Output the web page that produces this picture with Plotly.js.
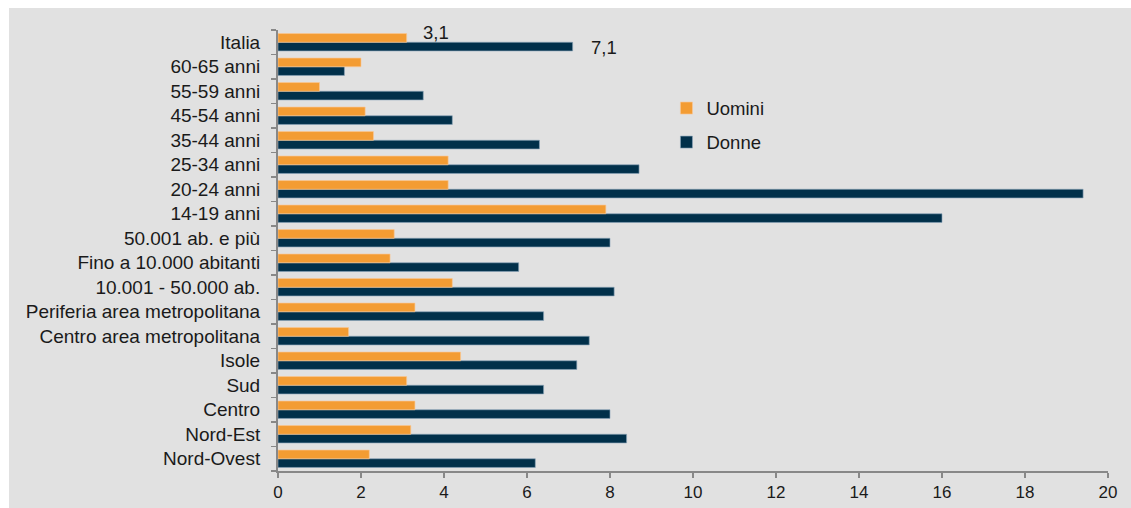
<!DOCTYPE html>
<html>
<head>
<meta charset="utf-8">
<script src="https://cdn.plot.ly/plotly-3.0.1.min.js"></script>
<style>
  html, body { margin: 0; padding: 0; background: #ffffff; }
  #chart { position: absolute; left: 9px; top: 8px; width: 1122px; height: 500px; }
</style>
</head>
<body>
<div id="chart"></div>
<script>
// Categories listed bottom to top
const categories = [
  "Nord-Ovest", "Nord-Est", "Centro", "Sud", "Isole",
  "Centro area metropolitana", "Periferia area metropolitana",
  "10.001 - 50.000 ab.", "Fino a 10.000 abitanti", "50.001 ab. e più",
  "14-19 anni", "20-24 anni", "25-34 anni", "35-44 anni",
  "45-54 anni", "55-59 anni", "60-65 anni", "Italia"
];
const uomini = [2.2, 3.2, 3.3, 3.1, 4.4, 1.7, 3.3, 4.2, 2.7, 2.8, 7.9, 4.1, 4.1, 2.3, 2.1, 1.0, 2.0, 3.1];
const donne  = [6.2, 8.4, 8.0, 6.4, 7.2, 7.5, 6.4, 8.1, 5.8, 8.0, 16.0, 19.4, 8.7, 6.3, 4.2, 3.5, 1.6, 7.1];
const labelCategory = "Italia";
const xTicks = [0, 2, 4, 6, 8, 10, 12, 14, 16, 18, 20];

const FONT = "'Liberation Sans', Arial, sans-serif";
const idx = categories.indexOf(labelCategory);

const traces = [
  {
    type: "bar", orientation: "h", name: "Donne", legendrank: 2, legendgroup: "d",
    y: categories, x: donne,
    marker: { color: "#01304a", line: { color: "rgba(140,165,185,0.8)", width: 0.8 } },
    hoverinfo: "x+y"
  },
  {
    type: "bar", orientation: "h", name: "Uomini", legendrank: 1, legendgroup: "u",
    y: categories, x: uomini,
    marker: { color: "#f39c33", line: { color: "rgba(250,200,150,0.8)", width: 0.8 } },
    hoverinfo: "x+y"
  }
];

const layout = {
  width: 1122, height: 500,
  paper_bgcolor: "#e1e1e1", plot_bgcolor: "#e1e1e1",
  margin: { l: 269, r: 23, t: 22, b: 36.5, autoexpand: false },
  barmode: "group", bargap: 0.29, bargroupgap: 0,
  font: { family: FONT, size: 18, color: "#1a1a1a" },
  showlegend: true,
  legend: {
    x: 0.468, y: 0.865, xanchor: "left", yanchor: "top",
    bgcolor: "rgba(0,0,0,0)", traceorder: "grouped", tracegroupgap: 7,
    font: { family: FONT, size: 18.5, color: "#1a1a1a" }
  },
  xaxis: {
    range: [0, 20], autorange: false, tickvals: xTicks, ticktext: xTicks.map(String),
    showgrid: false, zeroline: false,
    showline: true, linecolor: "#888888", linewidth: 2,
    ticks: "outside", ticklen: 5, tickcolor: "#888888", tickwidth: 1.5,
    tickfont: { family: FONT, size: 17, color: "#1a1a1a" }, fixedrange: true
  },
  yaxis: {
    type: "category", categoryorder: "array", categoryarray: categories,
    range: [-0.5, categories.length - 0.5], autorange: false,
    showgrid: false, zeroline: false,
    showline: true, linecolor: "#888888", linewidth: 2,
    ticks: "outside", ticklen: 5, tickcolor: "#888888", tickwidth: 1.5,
    tickson: "boundaries", ticklabelstandoff: 12,
    tickfont: { family: FONT, size: 19, color: "#1a1a1a" }, fixedrange: true
  },
  annotations: [
    {
      x: uomini[idx], y: categories[idx], xref: "x", yref: "y",
      text: String(uomini[idx]).replace(".", ","), showarrow: false,
      xanchor: "left", yanchor: "middle", xshift: 14, yshift: 10,
      font: { family: FONT, size: 18.5, color: "#1a1a1a" }
    },
    {
      x: donne[idx], y: categories[idx], xref: "x", yref: "y",
      text: String(donne[idx]).replace(".", ","), showarrow: false,
      xanchor: "left", yanchor: "middle", xshift: 16, yshift: -5.5,
      font: { family: FONT, size: 18.5, color: "#1a1a1a" }
    }
  ]
};

Plotly.newPlot("chart", traces, layout, { displayModeBar: false, staticPlot: true });
</script>
</body>
</html>
